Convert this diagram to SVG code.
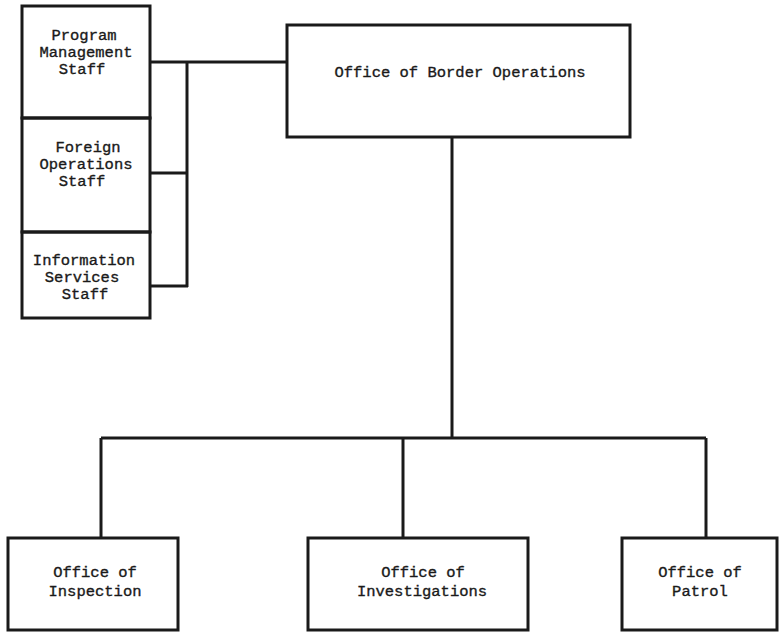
<svg xmlns="http://www.w3.org/2000/svg" width="779" height="632" viewBox="0 0 779 632">
<style>
.box{fill:none;stroke:#1a1a1a;stroke-width:3}
.ln{fill:none;stroke:#1a1a1a;stroke-width:3}
text{font-family:"Liberation Mono","DejaVu Sans Mono",monospace;font-size:15.5px;fill:#1a1a1a;stroke:#1a1a1a;stroke-width:0.35;text-anchor:middle}
</style>
<rect width="779" height="632" fill="#fff"/>
<g id="connectors">
<path class="ln" d="M150 62 H287"/>
<path class="ln" d="M187 62 V287"/>
<path class="ln" d="M150 173 H187"/>
<path class="ln" d="M150 286 H188"/>
<path class="ln" d="M452 137 V438"/>
<path class="ln" d="M101 438 H706"/>
<path class="ln" d="M101 438 V538"/>
<path class="ln" d="M403 438 V538"/>
<path class="ln" d="M706 438 V538"/>
</g>
<g id="program-management">
<rect class="box" x="22" y="6" width="128" height="112"/>
<text x="84" y="40">Program</text>
<text x="86" y="57">Management</text>
<text x="82" y="74">Staff</text>
</g>
<g id="foreign-operations">
<rect class="box" x="22" y="118" width="128" height="114"/>
<text x="88" y="152">Foreign</text>
<text x="86" y="169">Operations</text>
<text x="82" y="186">Staff</text>
</g>
<g id="information-services">
<rect class="box" x="22" y="232" width="128" height="86"/>
<text x="84" y="265">Information</text>
<text x="82" y="282">Services</text>
<text x="85" y="299">Staff</text>
</g>
<g id="border-operations">
<rect class="box" x="287" y="25" width="343" height="112"/>
<text x="460" y="77">Office of Border Operations</text>
</g>
<g id="inspection">
<rect class="box" x="8" y="538" width="170" height="92"/>
<text x="95" y="577">Office of</text>
<text x="95" y="596">Inspection</text>
</g>
<g id="investigations">
<rect class="box" x="308" y="538" width="220" height="92"/>
<text x="423" y="577">Office of</text>
<text x="422" y="596">Investigations</text>
</g>
<g id="patrol">
<rect class="box" x="622" y="538" width="155" height="92"/>
<text x="700" y="577">Office of</text>
<text x="700" y="596">Patrol</text>
</g>
</svg>
